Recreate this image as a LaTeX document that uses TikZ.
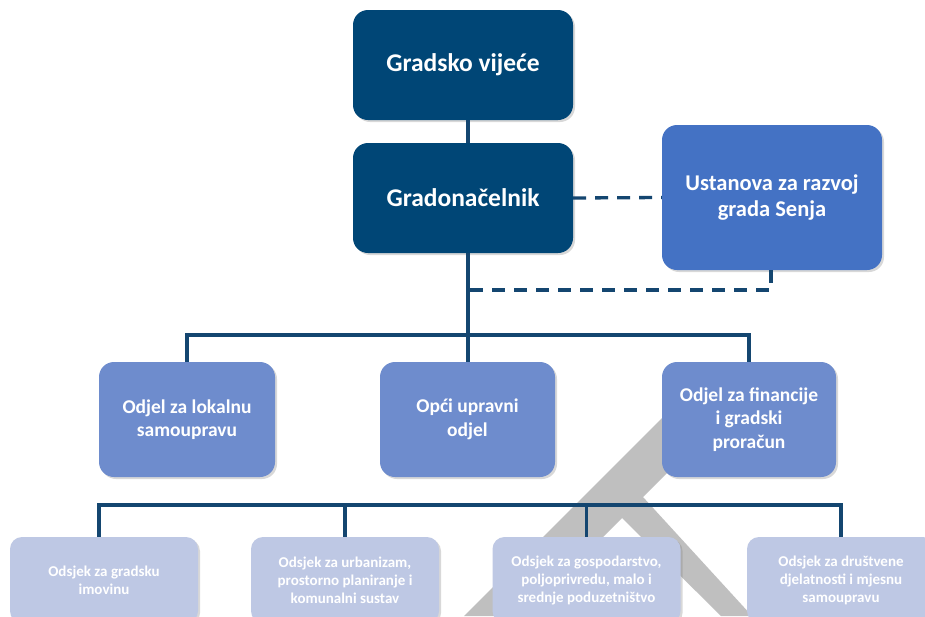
\documentclass[tikz,border=0pt]{standalone}
\usepackage{fontspec}
\setmainfont{Carlito}
\usetikzlibrary{shadows}
\definecolor{navy}{RGB}{0,70,118}
\definecolor{midblue}{RGB}{68,114,196}
\definecolor{rowblue}{RGB}{110,140,205}
\definecolor{paleblue}{RGB}{190,200,228}
\definecolor{linecol}{RGB}{20,70,112}
\definecolor{wmgray}{RGB}{191,191,191}
\tikzset{
  box/.style={rounded corners=15pt, inner sep=2pt, align=center, text=white,
    drop shadow={opacity=0.3, shadow xshift=2pt, shadow yshift=-2pt}},
  topbox/.style={box, fill=navy, minimum width=220pt, minimum height=110pt,
    font=\bfseries\fontsize{25.5}{30}\selectfont},
  usbox/.style={box, fill=midblue, minimum width=220pt, minimum height=145pt,
    font=\bfseries\fontsize{22.5}{26}\selectfont},
  rowbox/.style={box, fill=rowblue, minimum height=115pt,
    font=\bfseries\fontsize{19.5}{23.5}\selectfont},
  subbox/.style={box, rounded corners=12pt, fill=paleblue, minimum width=188pt, minimum height=86pt,
    font=\bfseries\fontsize{15}{18}\selectfont},
  conn/.style={draw=linecol, line width=3.3pt},
  dconn/.style={draw=linecol, line width=3.3pt, dash pattern=on 13pt off 9pt}
}
\begin{document}
\begin{tikzpicture}[x=1pt,y=-1pt]
\useasboundingbox (0,0) rectangle (925,616);
\clip (0,0) rectangle (925,616);
\fill[white] (0,0) rectangle (925,616);
% watermark
\fill[wmgray] (700,380) -- (760,380) -- (643,497) -- (752,616) -- (721,616) -- (622,518)
  -- (524,616) -- (464,616) -- cycle;
% coordinates
\coordinate (t) at (468,335);
\coordinate (hl) at (187,335);
\coordinate (hr) at (749,335);
\coordinate (bl) at (99,505);
\coordinate (br) at (841,505);
\coordinate (dk) at (771,290);
% nodes
\node[topbox] (gv) at (463,65) {Gradsko vijeće};
\node[topbox] (gn) at (463,198) {Gradonačelnik};
\node[usbox] (us) at (772,197.5) {Ustanova za razvoj\\grada Senja};
\node[rowbox, minimum width=176pt] (o1) at (187,419.5) {Odjel za lokalnu\\samoupravu};
\node[rowbox, minimum width=175pt] (o2) at (467.5,419.5) {Opći upravni\\odjel};
\node[rowbox, minimum width=174pt] (o3) at (749,419.5) {Odjel za financije\\i gradski\\proračun};
\node[subbox] (s1) at (104,580) {Odsjek za gradsku\\imovinu};
\node[subbox] (s2) at (345,580) {Odsjek za urbanizam,\\prostorno planiranje i\\komunalni sustav};
\node[subbox] (s3) at (586.5,580) {Odsjek za gospodarstvo,\\poljoprivredu, malo i\\srednje poduzetništvo};
\node[subbox] (s4) at (841,580) {Odsjek za društvene\\djelatnosti i mjesnu\\samoupravu};
% connectors
\draw[conn] (gv.south -| t) -- (gn.north -| t);
\draw[conn] (gn.south -| t) -- (o2.north -| t);
\draw[conn] (o1.north) -- (hl) -- (hr) -- (o3.north);
\draw[dconn] (gn.east) -- (us.west);
\draw[dconn] (us.south -| dk) -- (dk) -- (dk -| t);
\draw[conn] (s1.north -| bl) -- (bl) -- (br) -- (s4.north);
\draw[conn] (s2.north) -- (s2.north |- bl);
\draw[conn] (s3.north) -- (s3.north |- bl);
\end{tikzpicture}
\end{document}
